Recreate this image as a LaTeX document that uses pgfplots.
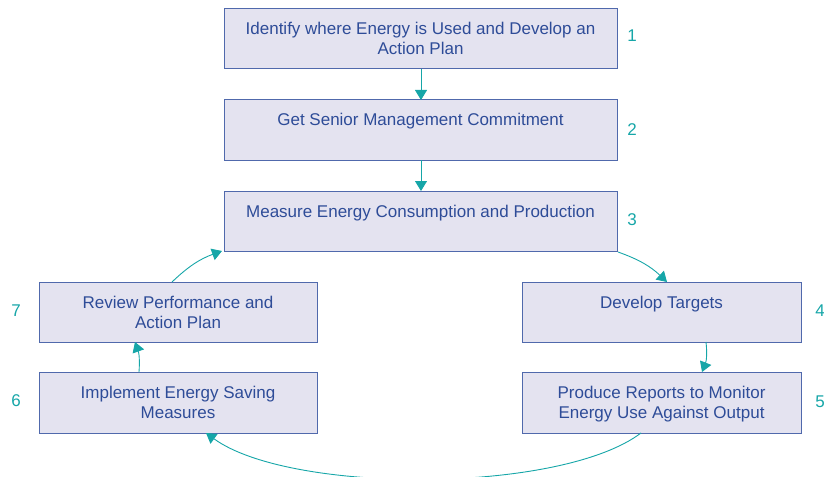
\documentclass[border=0pt]{standalone}
\usepackage{pgfplots}
\pgfplotsset{compat=1.18}
\usepackage{fontspec}
\setmainfont{Liberation Sans}
\usetikzlibrary{arrows.meta}
\definecolor{boxfill}{RGB}{228,227,240}
\definecolor{boxline}{RGB}{80,105,172}
\definecolor{boxtext}{RGB}{46,76,152}
\definecolor{teal1}{RGB}{22,166,168}
\begin{document}
\begin{tikzpicture}
\begin{axis}[
  name=ax,
  width=824bp, height=477bp, scale only axis,
  hide axis, xmin=0, xmax=824, ymin=0, ymax=477, y dir=reverse,
  clip=false,
]
% boxes
\addplot[draw=boxline, fill=boxfill, line width=1bp] coordinates {(224,9) (617,9) (617,69) (224,69)} -- cycle;
\addplot[draw=boxline, fill=boxfill, line width=1bp] coordinates {(224,100) (617,100) (617,160) (224,160)} -- cycle;
\addplot[draw=boxline, fill=boxfill, line width=1bp] coordinates {(224,191) (617,191) (617,251) (224,251)} -- cycle;
\addplot[draw=boxline, fill=boxfill, line width=1bp] coordinates {(522,282) (801,282) (801,342) (522,342)} -- cycle;
\addplot[draw=boxline, fill=boxfill, line width=1bp] coordinates {(522,372) (801,372) (801,433) (522,433)} -- cycle;
\addplot[draw=boxline, fill=boxfill, line width=1bp] coordinates {(39,282) (317,282) (317,342) (39,342)} -- cycle;
\addplot[draw=boxline, fill=boxfill, line width=1bp] coordinates {(39,372) (317,372) (317,433) (39,433)} -- cycle;
% texts
\begin{scope}[every node/.style={text=boxtext, font=\fontsize{17bp}{20bp}\selectfont, inner sep=0pt, anchor=base}]
\node at (axis cs:420.5,35) {Identify where Energy is Used and Develop an};
\node at (axis cs:420.5,55) {Action Plan};
\node at (axis cs:420.5,126) {Get Senior Management Commitment};
\node at (axis cs:420.5,217) {Measure Energy Consumption and Production};
\node at (axis cs:661.5,308) {Develop Targets};
\node at (axis cs:661.5,398) {Produce Reports to Monitor};
\node at (axis cs:661.5,418) {Energy Use Against Output};
\node at (axis cs:178,308) {Review Performance and};
\node at (axis cs:178,328) {Action Plan};
\node at (axis cs:178,398) {Implement Energy Saving};
\node at (axis cs:178,418) {Measures};
\end{scope}
% numbers
\begin{scope}[every node/.style={text=teal1, font=\fontsize{17bp}{20bp}\selectfont, inner sep=0pt, anchor=center}]
\node at (axis cs:632,36) {1};
\node at (axis cs:632,130) {2};
\node at (axis cs:632,220) {3};
\node at (axis cs:820,311) {4};
\node at (axis cs:820,402) {5};
\node at (axis cs:16,311) {7};
\node at (axis cs:16,401) {6};
\end{scope}
% arrows
\begin{scope}[teal1, line width=0.9bp, -{Triangle[width=12bp,length=10bp]}]
\draw (axis cs:421,69) -- (axis cs:421,100);
\draw (axis cs:421,160) -- (axis cs:421,191);
\draw (axis cs:618,252) to[bend left=12] (axis cs:667,282);
\draw (axis cs:706,342) to[bend left=14] (axis cs:702,372);
\draw (axis cs:641,433) .. controls (axis cs:560,494) and (axis cs:290,494) .. (axis cs:206,433);
\draw (axis cs:139,372) to[bend right=12] (axis cs:135,342);
\draw (axis cs:172,282) to[bend left=12] (axis cs:222,251);
\end{scope}
\end{axis}
\pgfresetboundingbox
\path (ax.south west) rectangle (ax.north east);
\end{tikzpicture}
\end{document}
